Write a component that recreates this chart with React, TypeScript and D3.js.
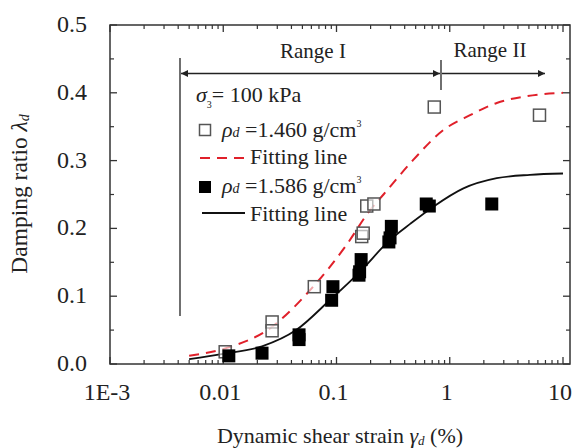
import React from "react";
import * as d3 from "d3";

// ---------- data ----------
const yTicks = [0.0, 0.1, 0.2, 0.3, 0.4, 0.5];
const xTickValues = [0.001, 0.01, 0.1, 1, 10];
const xTickLabels = ["1E-3", "0.01", "0.1", "1", "10"];

// rho_d = 1.460 g/cm3 (open squares)
const looseX = [0.0104, 0.027, 0.027, 0.0637, 0.167, 0.172, 0.185, 0.214, 0.73, 6.2];
const looseY = [0.018, 0.062, 0.049, 0.114, 0.188, 0.193, 0.233, 0.236, 0.379, 0.367];

// rho_d = 1.586 g/cm3 (filled squares)
const denseX = [0.0112, 0.022, 0.0467, 0.0467, 0.093, 0.0906, 0.165, 0.16, 0.158, 0.305, 0.297, 0.29, 0.62, 0.66, 2.35];
const denseY = [0.012, 0.016, 0.043, 0.036, 0.114, 0.094, 0.154, 0.136, 0.131, 0.203, 0.186, 0.18, 0.236, 0.233, 0.236];

// fitting lines
const fitLooseX = [0.005, 0.0104, 0.026, 0.0585, 0.123, 0.198, 0.26, 0.476, 0.877, 1.51, 2.6, 4.8, 10];
const fitLooseY = [0.012, 0.023, 0.053, 0.109, 0.176, 0.227, 0.25, 0.301, 0.345, 0.367, 0.385, 0.395, 0.4];
const fitDenseX = [0.005, 0.01, 0.022, 0.044, 0.087, 0.161, 0.297, 0.45, 0.716, 1.32, 2.6, 5.1, 10];
const fitDenseY = [0.007, 0.015, 0.026, 0.05, 0.094, 0.136, 0.183, 0.207, 0.232, 0.259, 0.274, 0.279, 0.281];

// ---------- layout ----------
const W = 572, H = 448;
const left = 110, right = 570, top = 25, bottom = 364;
const xRight = 563;
const FONT = '"Liberation Serif", "Times New Roman", "DejaVu Serif", serif';
const RED = "#e0202a";
const TS: React.CSSProperties = { fontFamily: FONT };

export default function App() {
  const x = d3.scaleLog().domain([0.001, 10]).range([left, xRight]);
  const y = d3.scaleLinear().domain([0, 0.5]).range([bottom, top]);

  const minorX: number[] = [];
  for (let e = -3; e <= 0; e++) for (let k = 2; k <= 9; k++) minorX.push(k * Math.pow(10, e));
  const minorY = d3.range(0.05, 0.5, 0.1);

  const line = d3
    .line<[number, number]>()
    .x((d) => x(d[0]))
    .y((d) => y(d[1]))
    .curve(d3.curveMonotoneX);

  const loosePath = line(fitLooseX.map((v, i) => [v, fitLooseY[i]] as [number, number])) || "";
  const densePath = line(fitDenseX.map((v, i) => [v, fitDenseY[i]] as [number, number])) || "";

  const sq = 12;
  const axisColor = "#333";

  return (
    <svg width={W} height={H} style={{ position: "absolute", left: 0, top: 0, background: "#fff", fontFamily: FONT }}>
      <rect x={0} y={0} width={W} height={H} fill="#fff" />
      {/* frame */}
      <rect x={left} y={top} width={right - left} height={bottom - top} fill="none" stroke={axisColor} strokeWidth={1.5} />

      {/* x ticks */}
      {xTickValues.map((v) => (
        <g key={"xt" + v}>
          <line x1={x(v)} x2={x(v)} y1={bottom} y2={bottom - 7} stroke={axisColor} strokeWidth={1.3} />
          <line x1={x(v)} x2={x(v)} y1={top} y2={top + 7} stroke={axisColor} strokeWidth={1.3} />
        </g>
      ))}
      {minorX.map((v) => (
        <g key={"xm" + v}>
          <line x1={x(v)} x2={x(v)} y1={bottom} y2={bottom - 4} stroke={axisColor} strokeWidth={1.2} />
          <line x1={x(v)} x2={x(v)} y1={top} y2={top + 4} stroke={axisColor} strokeWidth={1.2} />
        </g>
      ))}
      {xTickValues.map((v, i) => (
        <text key={"xl" + v} x={x(v) - 3} y={400} fontSize={24} textAnchor="middle" fill="#222" style={TS}>
          {xTickLabels[i]}
        </text>
      ))}

      {/* y ticks */}
      {yTicks.map((v) => (
        <g key={"yt" + v}>
          <line x1={left} x2={left + 7} y1={y(v)} y2={y(v)} stroke={axisColor} strokeWidth={1.3} />
          <line x1={right} x2={right - 7} y1={y(v)} y2={y(v)} stroke={axisColor} strokeWidth={1.3} />
          <text x={87} y={y(v) + 7} fontSize={24} textAnchor="end" fill="#222" style={TS}>
            {v.toFixed(1)}
          </text>
        </g>
      ))}
      {minorY.map((v) => (
        <g key={"ym" + v}>
          <line x1={left} x2={left + 4} y1={y(v)} y2={y(v)} stroke={axisColor} strokeWidth={1.2} />
          <line x1={right} x2={right - 4} y1={y(v)} y2={y(v)} stroke={axisColor} strokeWidth={1.2} />
        </g>
      ))}

      {/* axis titles */}
      <text x={340} y={443} fontSize={22} textAnchor="middle" fill="#222" style={TS}>
        Dynamic shear strain{" "}
        <tspan fontStyle="italic">γ</tspan>
        <tspan fontStyle="italic" fontSize={13} dy={2}>d</tspan>
        <tspan dy={-2}>{"  (%)"}</tspan>
      </text>
      <text transform="translate(27,194) rotate(-90)" fontSize={23.5} textAnchor="middle" fill="#222" style={TS}>
        Damping ratio{"  "}
        <tspan fontStyle="italic">λ</tspan>
        <tspan fontStyle="italic" fontSize={14} dy={2}>d</tspan>
      </text>

      {/* range annotations */}
      <defs>
        <marker id="arr" viewBox="0 0 10 10" refX={10} refY={5} markerWidth={10} markerHeight={7} markerUnits="userSpaceOnUse" orient="auto-start-reverse">
          <path d="M0,0 L10,5 L0,10 z" fill="#222" />
        </marker>
      </defs>
      <line x1={180} x2={180} y1={58} y2={316} stroke="#222" strokeWidth={1.3} />
      <line x1={441} x2={441} y1={60} y2={90} stroke="#222" strokeWidth={1.3} />
      <line x1={181} x2={440} y1={73.5} y2={73.5} stroke="#222" strokeWidth={1.3} markerStart="url(#arr)" markerEnd="url(#arr)" />
      <line x1={442} x2={545} y1={73.5} y2={73.5} stroke="#222" strokeWidth={1.3} markerEnd="url(#arr)" />
      <text x={313} y={58} fontSize={21} textAnchor="middle" fill="#222" style={TS}>Range I</text>
      <text x={490} y={57} fontSize={21} textAnchor="middle" fill="#222" style={TS}>Range II</text>

      {/* fitting lines */}
      <path d={loosePath} fill="none" stroke={RED} strokeWidth={2} strokeDasharray="10,7" />
      <path d={densePath} fill="none" stroke="#111" strokeWidth={1.8} />

      {/* points */}
      {looseX.map((v, i) => (
        <rect key={"lp" + i} x={x(v) - sq / 2} y={y(looseY[i]) - sq / 2} width={sq} height={sq} fill="#fff" fillOpacity={0.6} stroke="#555" strokeWidth={1.5} />
      ))}
      {denseX.map((v, i) => (
        <rect key={"dp" + i} x={x(v) - 6.5} y={y(denseY[i]) - 6.5} width={13} height={13} fill="#000" />
      ))}

      {/* legend */}
      <text x={196} y={102} fontSize={22} fill="#222" style={TS}>
        <tspan fontStyle="italic">σ</tspan>
        <tspan fontSize={10} dy={6}>3</tspan>
        <tspan dy={-6}>= 100 kPa</tspan>
      </text>
      <rect x={205 - 5.5} y={130 - 5.5} width={11} height={11} fill="#fff" stroke="#555" strokeWidth={1.5} />
      <text x={222} y={137} fontSize={22} fill="#222" style={TS}>
        <tspan fontStyle="italic">ρ</tspan>
        <tspan fontStyle="italic" fontSize={14}>d</tspan>
        <tspan>{" =1.460 g/cm"}</tspan>
        <tspan fontSize={10} dy={-10}>3</tspan>
      </text>
      <line x1={200} x2={244} y1={158} y2={158} stroke={RED} strokeWidth={2} strokeDasharray="10,7" />
      <text x={250} y={164} fontSize={22} fill="#222" style={TS}>Fitting line</text>
      <rect x={205 - 6} y={187 - 6} width={12} height={12} fill="#000" />
      <text x={222} y={193} fontSize={22} fill="#222" style={TS}>
        <tspan fontStyle="italic">ρ</tspan>
        <tspan fontStyle="italic" fontSize={14}>d</tspan>
        <tspan>{" =1.586 g/cm"}</tspan>
        <tspan fontSize={10} dy={-10}>3</tspan>
      </text>
      <line x1={202} x2={245} y1={213} y2={213} stroke="#111" strokeWidth={1.8} />
      <text x={250} y={221} fontSize={22} fill="#222" style={TS}>Fitting line</text>
    </svg>
  );
}
